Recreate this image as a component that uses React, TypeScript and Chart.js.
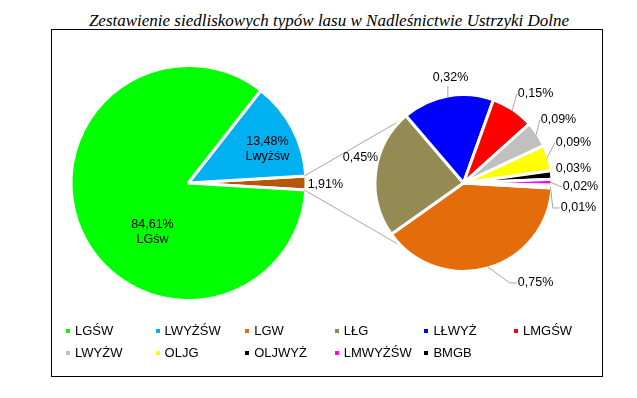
import React, { useEffect, useRef } from "react";
import { Chart, registerables } from "chart.js";
Chart.register(...registerables);

// ---- data ----
const titleText = "Zestawienie siedliskowych typów lasu w Nadleśnictwie Ustrzyki Dolne";

const mainKeys = ["Pozostałe", "LGŚW", "LWYŻŚW"];
const mainValues = [1.91, 84.61, 13.48];
const mainColors = ["#B65708", "#00FF00", "#00B0F0"];
const mainLabelLines = [["1,91%"], ["84,61%", "LGśw"], ["13,48%", "Lwyżśw"]];

const subKeys = ["LGW", "LŁG", "LŁWYŻ", "LMGŚW", "LWYŻW", "OLJG", "OLJWYŻ", "LMWYŻŚW", "BMGB"];
const subValues = [0.75, 0.45, 0.32, 0.15, 0.09, 0.09, 0.03, 0.02, 0.01];
const subColors = ["#E46C0A", "#948A54", "#0000FF", "#FF0000", "#C0C0C0", "#FFFF00", "#000000", "#FF00FF", "#000000"];
const subLabelTexts = ["0,75%", "0,45%", "0,32%", "0,15%", "0,09%", "0,09%", "0,03%", "0,02%", "0,01%"];

const legendNames = ["LGŚW", "LWYŻŚW", "LGW", "LŁG", "LŁWYŻ", "LMGŚW", "LWYŻW", "OLJG", "OLJWYŻ", "LMWYŻŚW", "BMGB"];
const legendColors = [mainColors[1], mainColors[2], ...subColors];

// ---- layout / style (not data) ----
const W = 637;
const H = 398;
const MAIN_R = 116;
const SUB_R = 87;
const BORDER = 3;
const mainLabelOffsets = [[1.18, 0.01], [-0.31, 0.42], [0.68, -0.29]];
const subLabelOffsets = [
  [0.828, 1.149], [-1.184, -0.287], [-0.149, -1.207], [0.828, -1.023], [1.092, -0.724],
  [1.264, -0.46], [1.264, -0.161], [1.345, 0.046], [1.322, 0.287],
];
const subLeaders = ["elbow", "none", "up", "straight", "straight", "straight", "none", "straight", "elbow"];
const SUB_ROTATION = 93.3;
const connectorAngles = [230, 130];
const labelFont = "12.5px 'Liberation Sans', Arial, sans-serif";
const leaderColor = "#A6A6A6";

export default function App() {
  const ref1 = useRef<HTMLCanvasElement>(null);
  const ref2 = useRef<HTMLCanvasElement>(null);

  useEffect(() => {
    const mainSum = mainValues.reduce((a, b) => a + b, 0);

    const mainLabelPlugin = {
      id: "mainLabels",
      afterDatasetsDraw(chart: any) {
        const ctx = chart.ctx;
        const arcs = chart.getDatasetMeta(0).data;
        ctx.save();
        ctx.font = labelFont;
        ctx.fillStyle = "#000";
        ctx.textAlign = "center";
        ctx.textBaseline = "middle";
        arcs.forEach((arc: any, i: number) => {
          const [ox, oy] = mainLabelOffsets[i];
          const cx = arc.x + ox * MAIN_R;
          const cy = arc.y + oy * MAIN_R;
          const lines = mainLabelLines[i];
          lines.forEach((t, j) => ctx.fillText(t, cx, cy + (j - (lines.length - 1) / 2) * 15));
        });
        ctx.restore();
      },
    };

    const c1 = new Chart(ref1.current as HTMLCanvasElement, {
      type: "pie",
      data: {
        labels: mainKeys,
        datasets: [{ data: mainValues, backgroundColor: mainColors, borderColor: "#fff", borderWidth: BORDER }],
      },
      options: {
        responsive: false,
        animation: false,
        events: [],
        rotation: 90 - (mainValues[0] / mainSum) * 180,
        radius: MAIN_R + BORDER / 2,
        layout: { padding: { left: 0, right: 260, top: 0, bottom: 32 } },
        plugins: { legend: { display: false }, title: { display: false }, tooltip: { enabled: false } },
      } as any,
      plugins: [mainLabelPlugin],
    });

    const subPlugin = {
      id: "subLabels",
      beforeDatasetsDraw(chart: any) {
        const ctx = chart.ctx;
        const m = c1.getDatasetMeta(0).data[0] as any;
        const s = chart.getDatasetMeta(0).data[0] as any;
        const starts = [m.startAngle, m.endAngle];
        ctx.save();
        ctx.strokeStyle = leaderColor;
        ctx.lineWidth = 1;
        starts.forEach((a: number, k: number) => {
          const t = (connectorAngles[k] * Math.PI) / 180;
          ctx.beginPath();
          ctx.moveTo(m.x + MAIN_R * Math.cos(a), m.y + MAIN_R * Math.sin(a));
          ctx.lineTo(s.x + SUB_R * Math.cos(t), s.y + SUB_R * Math.sin(t));
          ctx.stroke();
        });
        ctx.restore();
      },
      afterDatasetsDraw(chart: any) {
        const ctx = chart.ctx;
        const arcs = chart.getDatasetMeta(0).data;
        ctx.save();
        ctx.font = labelFont;
        ctx.textBaseline = "middle";
        ctx.textAlign = "center";
        arcs.forEach((arc: any, i: number) => {
          const [ox, oy] = subLabelOffsets[i];
          const cx = arc.x + ox * SUB_R;
          const cy = arc.y + oy * SUB_R;
          const text = subLabelTexts[i];
          const w = ctx.measureText(text).width;
          const mid = (arc.startAngle + arc.endAngle) / 2;
          const ex = arc.x + SUB_R * Math.cos(mid);
          const ey = arc.y + SUB_R * Math.sin(mid);
          const left = cx - w / 2 - 1;
          const kind = subLeaders[i];
          ctx.strokeStyle = leaderColor;
          ctx.lineWidth = 1;
          if (kind !== "none") {
            ctx.beginPath();
            ctx.moveTo(ex, ey);
            if (kind === "up") {
              ctx.lineTo(ex, cy + 8);
            } else if (kind === "straight") {
              ctx.lineTo(left, cy);
            } else {
              ctx.lineTo(left - 7, cy);
              ctx.lineTo(left, cy);
            }
            ctx.stroke();
          }
          ctx.fillStyle = "#000";
          ctx.fillText(text, cx, cy);
        });
        ctx.restore();
      },
    };

    const c2 = new Chart(ref2.current as HTMLCanvasElement, {
      type: "pie",
      data: {
        labels: subKeys,
        datasets: [{ data: subValues, backgroundColor: subColors, borderColor: "#fff", borderWidth: BORDER }],
      },
      options: {
        responsive: false,
        animation: false,
        events: [],
        rotation: SUB_ROTATION,
        radius: SUB_R + BORDER / 2,
        layout: { padding: { left: 290, right: 0, top: 0, bottom: 32 } },
        plugins: { legend: { display: false }, title: { display: false }, tooltip: { enabled: false } },
      } as any,
      plugins: [subPlugin],
    });

    return () => {
      c2.destroy();
      c1.destroy();
    };
  }, []);

  const legendRowY = [330.5, 352.5];
  return (
    <div style={{ position: "absolute", left: 0, top: 0, width: W, height: H, background: "#fff", overflow: "hidden" }}>
      <div
        style={{
          position: "absolute", left: 51, top: 29, width: 552, height: 348,
          border: "1px solid #000", boxSizing: "border-box",
        }}
      />
      <div
        style={{
          position: "absolute", left: 0, top: 11, width: 658, height: 19, lineHeight: "19px",
          textAlign: "center", fontFamily: "'Liberation Serif', 'Times New Roman', serif",
          fontStyle: "italic", fontSize: 17, color: "#000", whiteSpace: "nowrap",
        }}
      >
        {titleText}
      </div>
      <canvas ref={ref1} width={W} height={H} style={{ position: "absolute", left: 0, top: 0 }} />
      <canvas ref={ref2} width={W} height={H} style={{ position: "absolute", left: 0, top: 0 }} />
      {legendNames.map((name, i) => {
        const col = i % 6;
        const row = Math.floor(i / 6);
        return (
          <div
            key={name}
            style={{
              position: "absolute", left: 66 + col * 89.6, top: legendRowY[row] - 8, height: 16,
              display: "flex", alignItems: "center", whiteSpace: "nowrap",
              fontFamily: "'Liberation Sans', Arial, sans-serif", fontSize: 13, color: "#000",
            }}
          >
            <span style={{ display: "inline-block", width: 4, height: 4, background: legendColors[i], marginRight: 5 }} />
            <span>{name}</span>
          </div>
        );
      })}
    </div>
  );
}
